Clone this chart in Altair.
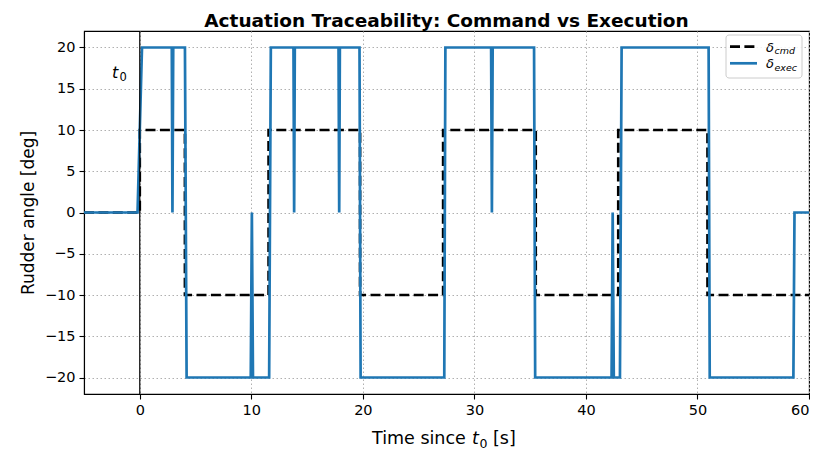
import altair as alt
import pandas as pd

# ---- data ----
t_start, t_end = -5.0, 60.0
cmd_initial = 0
cmd_switch_t = [0.0, 4.05, 11.55, 19.75, 27.2, 35.5, 42.9, 50.9]
cmd_levels = [10, -10, 10, -10, 10, -10, 10, -10]

exec_t = [-5.0, -0.2, 0.2, 2.87, 2.93, 3.0, 4.05, 4.2, 9.95, 10.05, 10.15,
          11.6, 11.75, 13.78, 13.84, 13.9, 17.82, 17.88, 17.94, 19.7, 19.8,
          27.3, 27.4, 31.5, 31.57, 31.64, 35.35, 35.45, 42.3, 42.4, 42.5,
          43.05, 43.2, 51.0, 51.1, 58.6, 58.7, 60.0]
exec_v = [0, 0, 20, 20, 0, 20, 20, -20, -20, 0, -20,
          -20, 20, 20, 0, 20, 20, 0, 20, 20, -20,
          -20, 20, 20, 0, 20, 20, -20, -20, 0, -20,
          -20, 20, 20, -20, -20, 0, 0]

x_ticks = [0, 10, 20, 30, 40, 50, 60]
y_ticks = [-20, -15, -10, -5, 0, 5, 10, 15, 20]

# build command step path
ct, cv = [t_start], [cmd_initial]
prev = cmd_initial
for t, lv in zip(cmd_switch_t, cmd_levels):
    ct += [t, t]
    cv += [prev, lv]
    prev = lv
ct.append(t_end)
cv.append(prev)

cmd_df = pd.DataFrame({"t": ct, "v": cv, "i": range(len(ct))})
exec_df = pd.DataFrame({"t": exec_t, "v": exec_v, "i": range(len(exec_t))})
t0_df = pd.DataFrame({"t": [0.0]})
one = pd.DataFrame({"a": [0]})

FONT = "DejaVu Sans"

xs = alt.Scale(domain=[t_start, t_end], nice=False, zero=False)
ys = alt.Scale(domain=[-22, 22], nice=False, zero=False)

x_enc = alt.X("t:Q", scale=xs, axis=alt.Axis(values=x_ticks, title=None))
y_enc = alt.Y("v:Q", scale=ys, axis=alt.Axis(values=y_ticks, title="Rudder angle [deg]",
                                             labelExpr="replace(datum.label, '-', '−')",
                                             titlePadding=7))

cmd_line = alt.Chart(cmd_df).mark_line(color="black", strokeWidth=2.7,
                                       strokeDash=[10, 4.4]).encode(
    x=x_enc, y=y_enc, order="i:Q")

exec_line = alt.Chart(exec_df).mark_line(color="#1f77b4", strokeWidth=2.7).encode(
    x="t:Q", y="v:Q", order="i:Q")

t0_rule = alt.Chart(t0_df).mark_rule(color="black", strokeWidth=1.2).encode(x="t:Q")


def ptext(txt, x, y, size, italic=False, align="left"):
    kw = dict(text=txt, font=FONT, fontSize=size, align=align,
              baseline="alphabetic", color="black")
    if italic:
        kw["fontStyle"] = "italic"
    return alt.Chart(one).mark_text(**kw).encode(x=alt.value(x), y=alt.value(y))


# t0 annotation (pixel offsets inside plot)
t0_label = [ptext("t", 28, 47, 16, italic=True), ptext("0", 35.5, 50, 11.5)]

# x-axis title with italic t and subscript 0
x_title = [ptext("Time since", 288, 413, 17.5), ptext("t", 388, 413, 17.5, italic=True),
           ptext("0", 395.5, 416.5, 12.5), ptext("[s]", 409, 413, 17.5)]

# legend (decoration)
leg_box = alt.Chart(one).mark_rect(fill="white", fillOpacity=0.85, stroke="#cccccc",
                                   strokeWidth=1, cornerRadius=3).encode(
    x=alt.value(642), x2=alt.value(718), y=alt.value(4), y2=alt.value(47))
leg_cmd = alt.Chart(one).mark_rule(color="black", strokeWidth=2.7, strokeDash=[10, 4.4]).encode(
    x=alt.value(646), x2=alt.value(673), y=alt.value(15.7))
leg_exec = alt.Chart(one).mark_rule(color="#1f77b4", strokeWidth=2.7).encode(
    x=alt.value(646), x2=alt.value(673), y=alt.value(32.3))

legend = [leg_box, leg_cmd, leg_exec,
          ptext("δ", 682, 20.5, 13, italic=True), ptext("cmd", 690.5, 23, 9.5, italic=True),
          ptext("δ", 682, 37.1, 13, italic=True), ptext("exec", 690.5, 39.6, 9.5, italic=True)]

chart = alt.layer(cmd_line, exec_line, t0_rule, *t0_label, *x_title, *legend).properties(
    width=725, height=363,
    title=alt.TitleParams("Actuation Traceability: Command vs Execution", font=FONT,
                          fontSize=18.5, fontWeight="bold", anchor="middle", frame="group",
                          offset=0, color="black"),
    autosize=alt.AutoSizeParams(type="none"),
    padding={"left": 76, "top": 23, "right": 1, "bottom": 55},
).configure_view(stroke="black", strokeWidth=1.1).configure_axis(
    labelFont=FONT, titleFont=FONT, labelFontSize=14.5, titleFontSize=17,
    titleFontWeight="normal", labelColor="black", titleColor="black",
    domainColor="black", domainWidth=1.1, tickColor="black", tickSize=5, tickWidth=1.1,
    labelPadding=4, grid=True, gridColor="#b0b0b0", gridDash=[1.5, 2.5], gridWidth=1,
)

chart.save("out.html", embed_options={"renderer": "svg", "actions": False})
